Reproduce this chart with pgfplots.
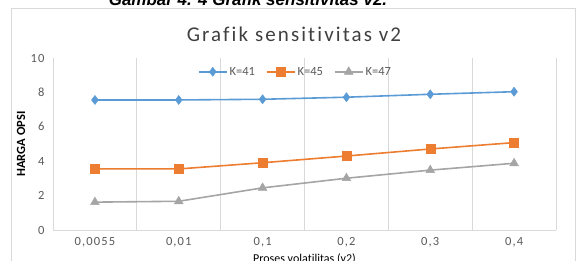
\documentclass[border=0pt]{standalone}
\usepackage{fontspec}
\setmainfont{Carlito}[Ligatures=NoCommon]
\newfontfamily\tickfont[LetterSpace=9,Ligatures=NoCommon]{Carlito}
\newfontfamily\titlefont[LetterSpace=10,Ligatures=NoCommon]{Carlito}
\newfontfamily\capfont{Liberation Sans}
\usepackage{pgfplots}
\pgfplotsset{compat=1.18}
\definecolor{cblue}{HTML}{5B9BD5}
\definecolor{corange}{HTML}{ED7D31}
\definecolor{cgray}{HTML}{A5A5A5}
\definecolor{cgrid}{HTML}{D9D9D9}
\definecolor{ctick}{HTML}{595959}
\definecolor{ctitle}{HTML}{404040}
\begin{document}
\begin{tikzpicture}[x=1pt,y=1pt]
\path[use as bounding box, clip] (0,0) rectangle (578,261);
\draw[cgrid, line width=0.8pt] (11.5,-20) rectangle (575,253);
\node[anchor=base, font=\capfont\bfseries\itshape\fontsize{17}{20}\selectfont] at (248,255.3) {Gambar 4. 4 Grafik sensitivitas v2.};
\node[anchor=base, text=ctitle, font=\titlefont\fontsize{21}{24}\selectfont] at (294,219.3) {Grafik sensitivitas v2};
\begin{axis}[
  at={(53pt,31pt)}, anchor=south west,
  scale only axis, width=503pt, height=172pt,
  xmin=-0.5, xmax=5.5, ymin=0, ymax=10,
  xtick={0,1,2,3,4,5},
  xticklabels={{0,0055},{0,01},{0,1},{0,2},{0,3},{0,4}},
  ytick={0,2,4,6,8,10},
  minor xtick={-0.5,0.5,1.5,2.5,3.5,4.5,5.5},
  xminorgrids, minor grid style={cgrid, line width=0.8pt},
  major tick length=0pt, minor tick length=0pt,
  axis lines*=left,
  axis line style={cgrid, line width=0.8pt, -},
  /pgf/number format/assume math mode=true,
  ticklabel style={font=\tickfont\fontsize{12.5}{14}\selectfont, text=ctick},
  xticklabel style={yshift=-4pt},
  yticklabel style={xshift=-5pt},
  ylabel={HARGA OPSI},
  ylabel style={at={(axis description cs:-0.0636,0.5)}, anchor=center, rotate=0, font=\bfseries\fontsize{12.5}{14}\selectfont, text=black},
  xlabel={Proses volatilitas (v2)},
  xlabel style={at={(axis description cs:0.5,-0.19)}, anchor=base, font=\fontsize{12}{14}\selectfont, text=black},
  legend style={at={(axis description cs:0.482,0.92)}, anchor=center, draw=none, fill=none,
    font=\fontsize{12.5}{14}\selectfont, text=ctick, /tikz/every even column/.append style={column sep=9pt},
    nodes={inner sep=2pt}},
  legend columns=3,
  legend image code/.code={\draw[mark repeat=2,mark phase=2,#1] plot coordinates {(0pt,0pt) (14pt,0pt) (28pt,0pt)};},
  every axis plot/.append style={line width=1.6pt},
]
\addplot[color=cblue, mark=diamond*, mark size=4.5pt, mark options={line width=0.5pt}] coordinates {(0,7.56) (1,7.56) (2,7.60) (3,7.72) (4,7.89) (5,8.04)};
\addlegendentry{K=41}
\addplot[color=corange, mark=square*, mark size=4.5pt, mark options={line width=0.5pt}] coordinates {(0,3.55) (1,3.55) (2,3.91) (3,4.30) (4,4.71) (5,5.08)};
\addlegendentry{K=45}
\addplot[color=cgray, mark=triangle*, mark size=5pt, mark options={line width=0.5pt}] coordinates {(0,1.62) (1,1.67) (2,2.45) (3,3.01) (4,3.48) (5,3.88)};
\addlegendentry{K=47}
\end{axis}
\end{tikzpicture}
\end{document}
